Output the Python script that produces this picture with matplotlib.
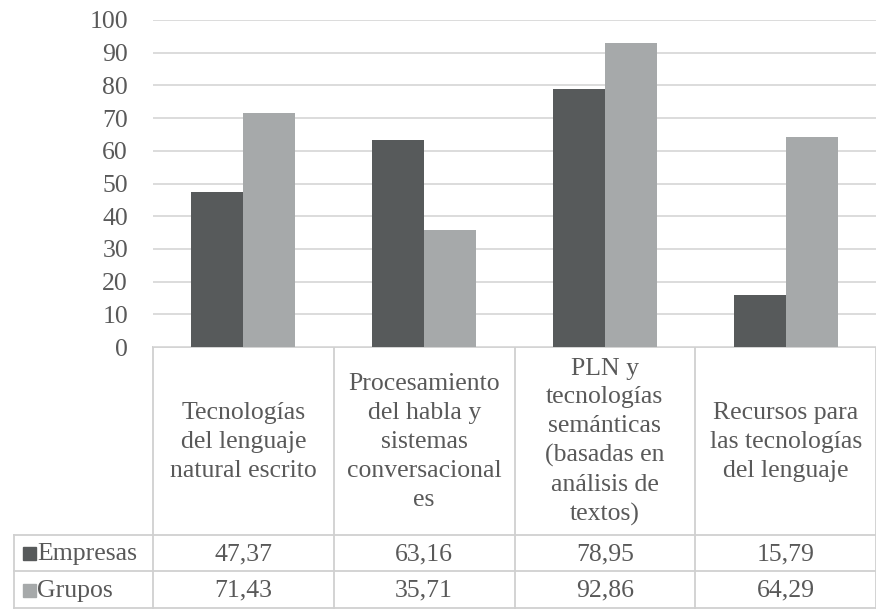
import matplotlib
matplotlib.use("Agg")
import matplotlib.pyplot as plt
from matplotlib import transforms
from matplotlib.patches import Rectangle

categories = [
    "Tecnologías\ndel lenguaje\nnatural escrito",
    "Procesamiento\ndel habla y\nsistemas\nconversacional\nes",
    "PLN y\ntecnologías\nsemánticas\n(basadas en\nanálisis de\ntextos)",
    "Recursos para\nlas tecnologías\ndel lenguaje",
]
empresas = [47.37, 63.16, 78.95, 15.79]
grupos = [71.43, 35.71, 92.86, 64.29]
series_names = ["Empresas", "Grupos"]

dark = "#575a5b"
light = "#a6a9aa"
txt = "#595959"
grid_c = "#d9d9d9"

plt.rcParams["font.family"] = "serif"
plt.rcParams["font.serif"] = ["Liberation Serif", "DejaVu Serif"]
fam = "Liberation Serif"
fs = 18.5

W, H = 876, 611
fig = plt.figure(figsize=(W / 100, H / 100), dpi=100)

# main plot area (pixel box 153..876 x 20..347)
ax = fig.add_axes([153 / W, 1 - 347 / H, (876 - 153) / W, (347 - 20) / H])
x = list(range(len(categories)))
bw = 0.287
ax.bar([i - bw / 2 for i in x], empresas, width=bw, color=dark, zorder=3)
ax.bar([i + bw / 2 for i in x], grupos, width=bw, color=light, zorder=3)
ax.set_xlim(-0.5, len(categories) - 0.5)
ax.set_ylim(0, 100)
ax.set_yticks(range(0, 101, 10))
ax.yaxis.grid(True, color=grid_c, linewidth=1.3, zorder=0)
ax.tick_params(axis="y", length=0, pad=18, labelcolor=txt, labelsize=fs)
for lab in ax.get_yticklabels():
    lab.set_family(fam)
ax.set_xticks([])
for s in ax.spines.values():
    s.set_visible(False)

# overlay in pixel coordinates for the data table
ov = fig.add_axes([0, 0, 1, 1], zorder=-1)
ov.set_xlim(0, W)
ov.set_ylim(H, 0)
ov.axis("off")
tr = transforms.blended_transform_factory(ax.transData, ov.transData)

top, head_bot, row1_bot, row2_bot = 347, 535, 571, 608
left_edge = 14
lc = "#d0d0d0"
lw = 1.3

# column borders
edges = [i - 0.5 for i in range(len(categories) + 1)]
for e in edges:
    ov.plot([e, e], [top, row2_bot], color=lc, lw=lw, transform=tr, clip_on=False)
ov.plot([left_edge, left_edge], [head_bot, row2_bot], color=lc, lw=lw)
# row borders
ov.plot([edges[0], edges[-1]], [top, top], color=lc, lw=lw, transform=tr, clip_on=False)
for yy in (head_bot, row1_bot, row2_bot):
    ov.plot([left_edge, W], [yy, yy], color=lc, lw=lw, clip_on=False)

# header labels
for i, c in enumerate(categories):
    ov.text(i, 442, c, transform=tr, ha="center", va="center", family=fam,
            color=txt, fontsize=fs, linespacing=1.4)

# row labels with legend keys
rows = [(empresas, dark, (head_bot + row1_bot) / 2),
        (grupos, light, (row1_bot + row2_bot) / 2)]
for name, (vals, col, yc) in zip(series_names, rows):
    ov.add_patch(Rectangle((23, yc - 6), 13, 13, color=col))
    ov.text(37, yc + 1, name, ha="left", va="center", color=txt,
            fontsize=fs, family=fam)
    for i, v in enumerate(vals):
        ov.text(i, yc + 1, f"{v:.2f}".replace(".", ","), transform=tr,
                ha="center", va="center", color=txt, fontsize=fs, family=fam)

fig.savefig("out.png", dpi=100)
